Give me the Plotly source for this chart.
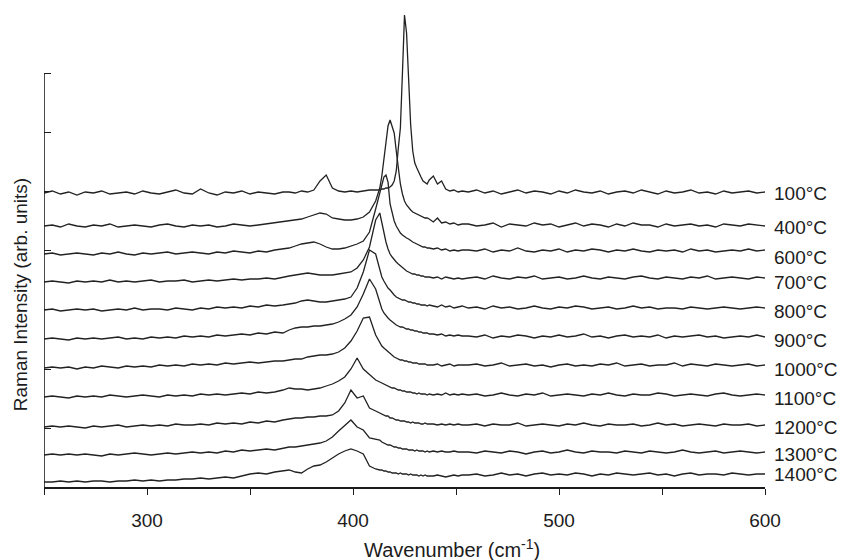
import plotly.graph_objects as go

# ---------------- data ----------------
wavenumber = [
    250, 254, 258, 262, 266, 270, 274, 278, 282, 286, 290, 294, 298, 302, 306,
    310, 314, 318, 322, 326, 330, 334, 338, 342, 346, 350, 354, 358, 362, 366,
    369, 372, 375, 378, 381, 384, 387, 390, 393, 396, 399, 402, 405, 408, 411,
    413, 414, 415, 416, 417, 418, 419, 420, 421, 422, 423, 424, 425, 426, 427,
    428, 429, 430, 431, 432, 433, 434, 435, 436, 437,
    439, 441, 443, 445, 447, 449, 451, 453,
    456, 460, 464, 468, 472, 476, 480, 484, 488, 492, 496, 500, 504, 508, 512,
    516, 520, 524, 528, 532, 536, 540, 544, 548, 552, 556, 560, 564, 568, 572,
    576, 580, 584, 588, 592, 596, 600,
]

temperatures = ["100°C", "400°C", "600°C", "700°C", "800°C", "900°C",
                "1000°C", "1100°C", "1200°C", "1300°C", "1400°C"]

i100 = [0, 2, -1, 1, -2, 1, 0, 2, -1, 0, 1, -1, 2, 0, -1, 1, 3, 0, -1, 4, 0, -2, 1, 0, 2, -1, 1, 0, -1, 1,
        1, 0, 2, 1, 3, 12, 18, 5, 2, 1, 2, 1, 2, 3, 3,
        3, 4, 4, 5, 5, 6, 8, 12, 22, 45, 65, 120, 178, 160, 110, 68, 42, 30, 25, 20, 16, 12, 10, 9, 13,
        17, 9, 12, 4, 2, 3, 1, 2,
        1, 3, 0, 2, -1, 1, 3, 0, 2, 1, -1, 2, 0, 3, 1, 0, 2, -1, 1, 2, 0, 3, 1, -1, 2, 0, 1, 3, 0, 1, -1, 2, 0, 1, 2, 0, 1]
i400 = [0, 1, -1, 2, 0, -1, 1, 0, 2, -1, 0, 1, 0, -1, 1, 2, 0, -1, 1, 0, 1, -1, 0, 2, 1, 0, 1, 2, 3, 4,
        5, 6, 7, 9, 11, 13, 12, 8, 7, 6, 6, 7, 9, 14, 25,
        38, 50, 65, 85, 100, 106, 100, 93, 75, 56, 42, 32, 25, 21, 18, 16, 14, 13, 12, 11, 10, 9, 8, 8, 7,
        4, 8, 3, 4, 2, 3, 1, 2,
        2, 0, 1, 3, -1, 2, 1, 0, 3, 1, 2, -1, 1, 3, 0, 2, 1, -1, 2, 0, 3, 1, 1, -1, 2, 0, 1, 2, 0, 1, -1, 2, 1, 0, 2, 1, 0]
i600 = [0, 1, -1, 0, 1, 0, -1, 1, 0, 2, 0, -1, 1, 0, 1, 2, 0, 1, 2, 1, 0, 2, 1, 3, 2, 1, 3, 2, 4, 5,
        6, 8, 10, 11, 12, 10, 7, 5, 5, 6, 8, 10, 13, 22, 45,
        62, 70, 77, 79, 72, 50, 40, 33, 28, 24, 21, 19, 17, 16, 15, 13, 12, 11, 10, 9, 8, 7, 7, 6, 6,
        5, 6, 4, 5, 3, 4, 3, 4,
        4, 3, 5, 2, 4, 3, 6, 3, 2, 4, 3, 5, 2, 4, 3, 5, 4, 2, 4, 3, 5, 3, 2, 4, 3, 4, 2, 5, 3, 4, 2, 3, 4, 3, 5, 3, 4]
i700 = [0, 1, 0, -1, 1, 0, 1, 0, 2, 0, 1, 0, 1, 2, 0, 1, 1, 2, 0, 1, 2, 1, 2, 3, 2, 3, 3, 4, 3, 5,
        6, 7, 8, 9, 8, 7, 7, 7, 8, 9, 10, 14, 22, 35, 62,
        69, 58, 48, 40, 33, 28, 25, 22, 20, 18, 16, 14, 13, 11, 10, 9, 8, 8, 7, 7, 6, 6, 5, 5, 5,
        4, 5, 3, 5, 4, 3, 4, 3,
        4, 5, 3, 6, 4, 3, 5, 4, 6, 3, 4, 5, 3, 4, 6, 4, 3, 5, 4, 3, 5, 6, 4, 3, 5, 4, 3, 5, 4, 6, 3, 4, 5, 4, 3, 5, 4]
i800 = [0, 1, -1, 0, 1, 0, 1, -1, 0, 1, 0, 2, 0, 1, 1, 0, 2, 1, 0, 2, 1, 3, 2, 3, 2, 4, 3, 5, 4, 5,
        6, 7, 9, 10, 9, 8, 8, 9, 10, 11, 13, 22, 38, 60, 56,
        42, 33, 29, 25, 22, 20, 17, 15, 13, 12, 11, 10, 10, 9, 8, 8, 7, 7, 6, 6, 5, 5, 5, 4, 5,
        4, 3, 5, 3, 4, 2, 3, 4,
        2, 3, 1, 4, 2, 3, 1, 2, 4, 2, 1, 3, 2, 4, 3, 1, 2, 3, 1, 2, 4, 2, 3, 1, 2, 2, 1, 3, 2, 1, 2, 3, 2, 1, 2, 3, 2]
i900 = [0, 1, 0, -1, 1, 0, 1, 0, 1, 2, 0, 1, 0, 2, 1, 2, 1, 3, 2, 3, 2, 4, 3, 4, 5, 4, 6, 5, 7, 6,
        9, 11, 12, 12, 13, 13, 14, 15, 17, 20, 24, 32, 45, 60, 50,
        36, 30, 26, 23, 21, 19, 17, 15, 14, 13, 12, 12, 11, 10, 10, 9, 9, 8, 8, 7, 7, 6, 6, 6, 5,
        5, 4, 5, 3, 4, 3, 4, 3,
        3, 2, 4, 1, 3, 2, 4, 3, 1, 3, 2, 4, 2, 3, 5, 2, 3, 1, 3, 4, 2, 3, 2, 4, 1, 3, 2, 3, 4, 2, 3, 1, 2, 3, 2, 4, 2]
i1000 = [0, 1, 0, 1, -1, 1, 0, 2, 1, 0, 2, 1, 2, 1, 3, 2, 3, 2, 4, 3, 4, 3, 5, 4, 5, 6, 5, 6, 7, 7,
         8, 9, 9, 11, 12, 13, 13, 14, 16, 20, 27, 37, 50, 51, 33,
         25, 22, 20, 18, 16, 14, 13, 11, 10, 9, 8, 8, 7, 7, 6, 6, 5, 5, 5, 4, 4, 4, 4, 3, 3,
         3, 4, 2, 3, 4, 2, 3, 3,
         3, 4, 2, 3, 5, 2, 3, 4, 2, 3, 1, 3, 4, 2, 3, 2, 4, 3, 5, 2, 3, 4, 2, 3, 3, 5, 2, 4, 3, 2, 4, 3, 2, 3, 4, 2, 3]
i1100 = [0, 1, 0, -1, 1, 0, 1, 0, 2, 1, 0, 1, 2, 1, 0, 2, 1, 2, 1, 3, 2, 3, 2, 3, 4, 3, 5, 4, 5, 7,
         9, 8, 8, 7, 8, 9, 11, 13, 16, 20, 28, 39, 28, 22, 17,
         15, 14, 13, 12, 11, 10, 9, 9, 8, 7, 7, 6, 6, 5, 5, 5, 4, 4, 3, 4, 3, 3, 3, 2, 3,
         2, 3, 2, 4, 2, 3, 2, 3,
         2, 3, 1, 2, 4, 2, 1, 3, 2, 4, 1, 2, 3, 2, 1, 3, 2, 4, 2, 1, 3, 2, 2, 4, 3, 1, 2, 3, 2, 1, 3, 4, 2, 1, 2, 3, 2]
i1200 = [0, 1, 0, 1, 0, -1, 1, 0, 1, 2, 0, 1, 2, 1, 2, 1, 3, 2, 2, 3, 2, 4, 3, 4, 3, 5, 4, 6, 5, 7,
         8, 9, 9, 10, 10, 11, 11, 12, 16, 24, 37, 29, 31, 19, 16,
         14, 13, 12, 11, 11, 9, 9, 8, 7, 7, 6, 6, 6, 5, 5, 4, 5, 4, 4, 4, 3, 3, 4, 3, 3,
         3, 2, 3, 2, 3, 2, 3, 2,
         2, 3, 1, 3, 2, 2, 4, 1, 2, 3, 2, 1, 3, 2, 4, 2, 1, 3, 2, 2, 3, 1, 2, 4, 2, 3, 1, 2, 3, 2, 1, 3, 2, 2, 3, 1, 2]
i1300 = [0, 1, 0, 1, 0, 1, 0, -1, 1, 0, 1, 2, 1, 0, 1, 2, 1, 2, 3, 2, 3, 2, 4, 3, 5, 4, 5, 6, 5, 7,
         8, 8, 9, 10, 11, 12, 14, 18, 24, 30, 35, 28, 25, 17, 16,
         15, 13, 12, 11, 10, 10, 9, 8, 8, 7, 7, 6, 6, 6, 5, 5, 5, 4, 5, 4, 4, 4, 3, 4, 3,
         4, 3, 4, 3, 3, 4, 3, 3,
         3, 2, 4, 3, 2, 4, 3, 1, 3, 4, 2, 3, 5, 3, 2, 4, 3, 3, 2, 4, 3, 2, 4, 3, 2, 3, 5, 3, 2, 3, 4, 2, 3, 4, 3, 2, 3]
i1400 = [0, 0, 1, 0, 1, 0, 1, 1, 0, 1, 1, 2, 1, 2, 1, 2, 2, 3, 3, 4, 3, 4, 5, 4, 6, 8, 9, 8, 10, 11,
         12, 10, 9, 13, 16, 17, 20, 24, 28, 31, 33, 31, 28, 16, 13,
         12, 12, 11, 11, 10, 10, 9, 9, 9, 8, 9, 8, 8, 8, 7, 8, 7, 7, 7, 6, 7, 6, 7, 6, 6,
         6, 7, 6, 5, 6, 7, 6, 7,
         7, 8, 6, 7, 9, 7, 8, 6, 8, 9, 7, 8, 7, 9, 8, 6, 8, 7, 9, 8, 7, 8, 9, 7, 8, 6, 8, 9, 7, 8, 8, 7, 9, 8, 7, 8, 8]

spectra = [i100, i400, i600, i700, i800, i900, i1000, i1100, i1200, i1300, i1400]

# vertical stacking offsets (arb. units)
offsets = [294, 261, 233, 205, 177, 148, 119, 90, 60, 32, 5]

x_major = [300, 400, 500, 600]
x_minor = [250, 350, 450, 550]

# ---------------- figure ----------------
FONT = "Liberation Sans, Arial, Helvetica, sans-serif"
INK = "#1c1c1c"

fig = go.Figure()
for name, sig, off in zip(temperatures, spectra, offsets):
    if len(sig) != len(wavenumber):
        raise ValueError(f"{name}: {len(sig)} vs {len(wavenumber)}")
    fig.add_trace(go.Scatter(
        x=wavenumber, y=[off + v for v in sig], mode="lines", name=name,
        line=dict(color="#222222", width=1.3), showlegend=False,
        hoverinfo="skip"))

# temperature labels at right end of each spectrum
label_y = [294, 260, 230, 205, 176, 147, 118, 89, 60, 33, 13]
annotations = []
for name, ly in zip(temperatures, label_y):
    annotations.append(dict(x=600, y=ly, xref="x", yref="y", text=name,
                            showarrow=False, xanchor="left", yanchor="middle",
                            xshift=7, font=dict(family=FONT, size=19, color=INK)))

annotations.append(dict(x=448, y=-0.127, xref="x", yref="paper",
                        text="Wavenumber (cm<sup>-1</sup>)", showarrow=False,
                        xanchor="center", yanchor="middle",
                        font=dict(family=FONT, size=20, color=INK)))
annotations.append(dict(x=-0.033, y=192, xref="paper", yref="y",
                        text="Raman Intensity (arb. units)", showarrow=False,
                        textangle=-90, xanchor="center", yanchor="middle",
                        font=dict(family=FONT, size=19, color=INK)))

y_ticks = [0, 59, 118, 178, 237, 296, 355, 414]

fig.update_layout(
    width=843, height=560,
    margin=dict(l=44, r=78, t=5, b=73),
    paper_bgcolor="white", plot_bgcolor="white",
    font=dict(family=FONT, size=19, color=INK),
    annotations=annotations,
    shapes=[dict(type="line", xref="x", yref="y", x0=250, x1=250, y0=0, y1=414,
                 line=dict(color=INK, width=1.6), layer="above")],
)
fig.update_xaxes(
    range=[250, 600], showline=True, linecolor=INK, linewidth=1.6,
    ticks="outside", ticklen=6, tickwidth=1.4, tickcolor=INK,
    tickvals=x_major, showgrid=False, zeroline=False,
    minor=dict(tickvals=x_minor, ticks="outside", ticklen=6, tickwidth=1.4,
               tickcolor=INK, showgrid=False),
    ticklabelstandoff=9, tickfont=dict(family=FONT, size=19, color=INK),
)
fig.update_yaxes(
    range=[0, 482], showline=False, showgrid=False, zeroline=False,
    ticks="inside", ticklen=7, tickwidth=1.4, tickcolor=INK,
    tickvals=y_ticks, showticklabels=False,
)

fig.write_html("out.html")
